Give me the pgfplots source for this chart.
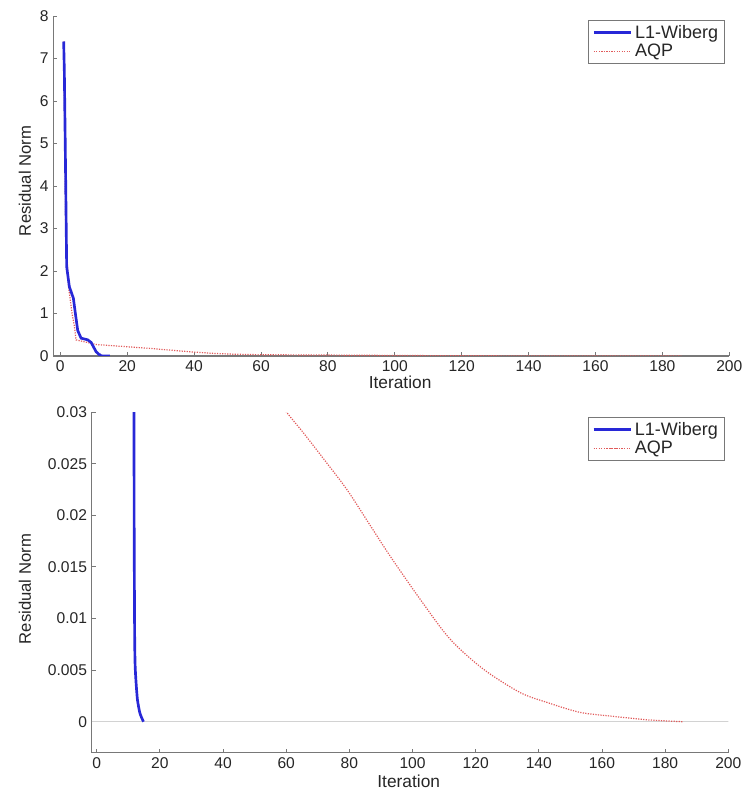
\documentclass[border=0pt]{standalone}
\usepackage{fontspec}
\setmainfont{Liberation Sans}
\usepackage{pgfplots}
\pgfplotsset{compat=1.18}
\definecolor{wib}{RGB}{40,40,215}
\definecolor{aqp}{RGB}{225,90,90}
\definecolor{axgray}{RGB}{120,120,120}
\pgfplotsset{
  mystyle/.style={
    scale only axis,
    axis x line=bottom, axis y line=left,
    axis line style={draw=axgray, line width=0.9pt, -},
    tick align=inside, major tick length=3pt,
    tick style={draw=axgray, line width=0.7pt},
    xtick={0,20,...,200}, xmax=200,
    scaled y ticks=false, scaled x ticks=false,
    ticklabel style={font=\fontsize{11.7}{13}\selectfont, text=black!85},
    /pgf/number format/assume math mode=true,
    legend style={draw=axgray, line width=0.7pt, fill=white,
      font=\fontsize{13.5}{15}\selectfont, text=black!85,
      anchor=north east, legend cell align=left,
      inner xsep=3pt, inner ysep=1.5pt, row sep=-1pt},
    legend image code/.code={\draw[##1] plot coordinates {(0pt,0pt) (14pt,0pt) (28pt,0pt)};},
    every axis x label/.style={anchor=center, font=\fontsize{13}{14}\selectfont, text=black!85},
    every axis y label/.style={rotate=90, anchor=center, font=\fontsize{12.5}{14}\selectfont, text=black!85},
  }
}
\begin{document}
\begin{tikzpicture}
\useasboundingbox (0,0) rectangle (561.75pt,594.75pt);
% ---------- top panel ----------
\begin{axis}[mystyle,
  at={(39.975pt,327.75pt)}, anchor=south west,
  width=507pt, height=255pt,
  xmin=-2.1, ymin=0, ymax=8,
  ytick={0,1,...,8},
  xlabel={Iteration}, ylabel={Residual Norm},
  xlabel style={at={(axis description cs:0.513,-0.076)}},
  ylabel style={at={(axis description cs:-0.042,0.515)}},
  legend style={at={(axis description cs:0.994,0.988)}},
]
\addplot[aqp, densely dotted, line width=0.9pt, forget plot] coordinates {
(1,7.4) (1.3,5.5) (1.6,3.0) (2.5,1.6) (3.5,1.0) (4.2,0.7) (4.7,0.38)
(10.7,0.27) (26.6,0.18) (38.6,0.10) (46,0.06) (52,0.042) (59.6,0.0302)
(65.4,0.0280) (79.2,0.0225) (92.9,0.01605) (102.4,0.01187) (111.9,0.0080)
(122.4,0.0051) (134.0,0.00284) (142.5,0.00188) (153.0,0.00091)
(163.6,0.00052) (174.2,0.00019) (185.7,0)};
\addplot[wib, line width=2pt] coordinates {
(1,7.4) (1.2,6.7) (1.5,4.8) (1.9,2.1) (2.7,1.63) (3.9,1.36) (4.5,1.0)
(5.2,0.6) (6.2,0.42) (8.2,0.38) (9.2,0.32) (10.7,0.1) (11.5,0.04)
(11.8,0.03) (11.85,0.0186) (12.1,0.0064) (12.45,0.0041) (12.9,0.0022)
(13.7,0.0009) (14.8,0)};
\addlegendentry{L1-Wiberg}
\addlegendimage{aqp, densely dotted, line width=0.9pt}
\addlegendentry{AQP}
\end{axis}
% ---------- bottom panel (zoom on the tail) ----------
\begin{axis}[mystyle,
  at={(68.775pt,30.225pt)}, anchor=south west,
  width=477.45pt, height=255.5pt,
  xmin=-1.6, ymin=-0.003, ymax=0.03,
  ytick={0,0.005,0.01,0.015,0.02,0.025,0.03},
  yticklabels={0,0.005,0.01,0.015,0.02,0.025,0.03},
  xlabel={Iteration}, ylabel={Residual Norm},
  xlabel style={at={(axis description cs:0.498,-0.085)}},
  ylabel style={at={(axis description cs:-0.105,0.48)}},
  legend style={at={(axis description cs:0.995,0.985)}},
]
\addplot[gray!35, line width=0.8pt, forget plot] coordinates {(-1.6,0) (201.5,0)};
\addplot[wib, line width=2pt, smooth, tension=0.4] coordinates {
(11.8,0.032)
(11.8,0.03) (11.85,0.0186) (12.0,0.0085) (12.15,0.0055) (12.45,0.0038) (12.9,0.0021)
(13.7,0.0008) (14.8,0)};
\addlegendentry{L1-Wiberg}
\addplot[aqp, densely dotted, line width=0.9pt, smooth, tension=0.5] coordinates {
(58.2,0.0312) (59.6,0.0302)
(65.4,0.0280) (72,0.0254) (79.2,0.0225) (86,0.0193) (92.9,0.01605) (102.4,0.01187) (111.9,0.0080)
(122.4,0.0051) (134.0,0.00284) (142.5,0.00188) (153.0,0.00091)
(163.6,0.00052) (174.2,0.00019) (185.7,0)};
\addlegendentry{AQP}
\end{axis}
\end{tikzpicture}
\end{document}
